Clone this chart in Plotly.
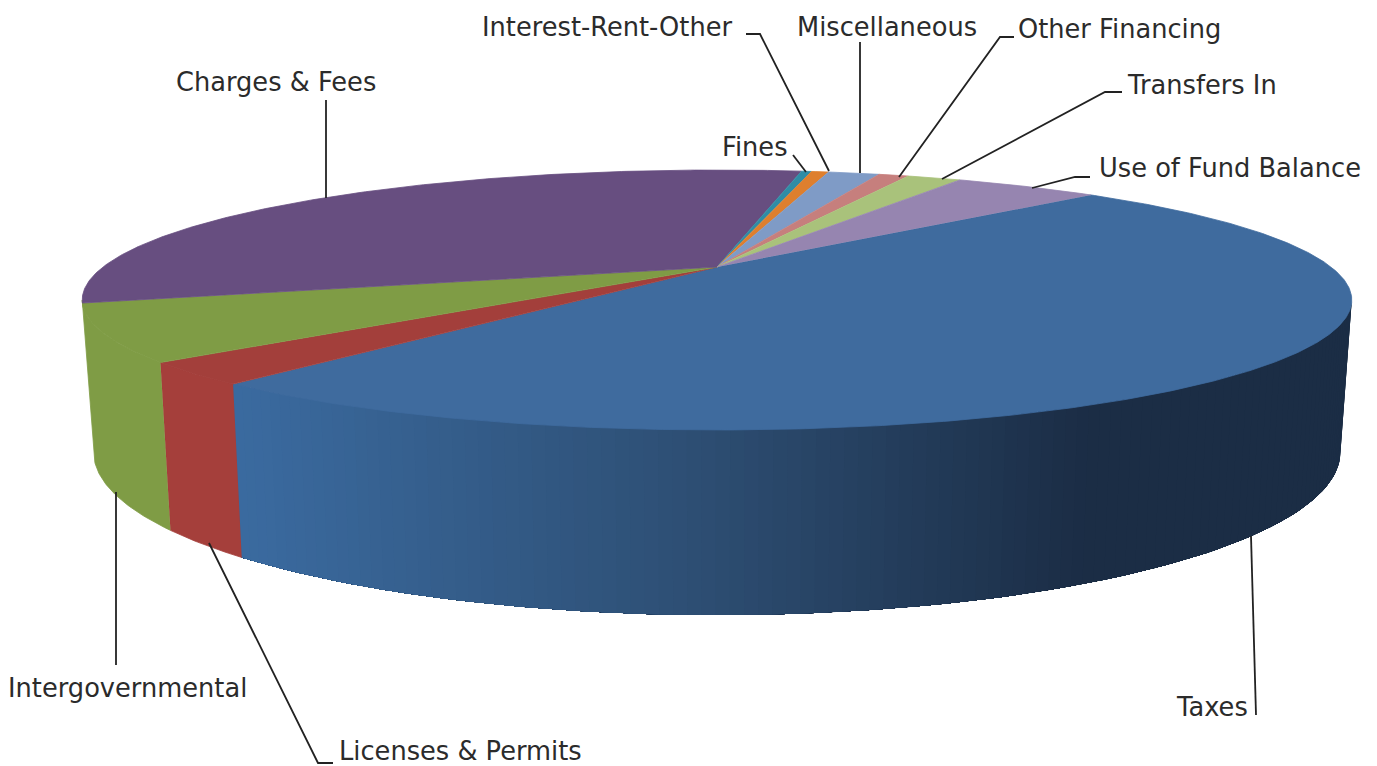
import math
import plotly.graph_objects as go

# ---- data (percent of total, clockwise from the first slice) ----
categories = ["Taxes", "Licenses & Permits", "Intergovernmental", "Charges & Fees", "Fines",
              "Interest-Rent-Other", "Miscellaneous", "Other Financing", "Transfers In",
              "Use of Fund Balance"]
values = [48.19, 2.72, 6.92, 32.19, 0.33, 0.56, 1.67, 0.97, 1.75, 4.69]

# ---- style ----
top_colors = ["#3F6B9E", "#A33F3B", "#7F9C45", "#674E80", "#2F8CA5",
              "#DE7F2E", "#7F9BC6", "#C67F7D", "#A9C27B", "#9685B0"]
side_left = {"Licenses & Permits": "#A53F3B", "Intergovernmental": "#7F9C45"}
GRAD = [(240, (59, 107, 160)), (700, (46, 79, 116)), (1100, (27, 45, 69)), (1400, (27, 45, 69))]
TEXT = "#2B2B2B"
FONT = "DejaVu Sans"
FS = 25.7

# ---- projection of the disc (perspective view) ----
START = 45.8
K = 0.2538
CX = 717
TOP = dict(a=614, b=121.6, c=267)
BOT = dict(a=603, b=152.5, c=410.6)


def project(theta, d):
    X, Y = math.sin(math.radians(theta)), math.cos(math.radians(theta))
    w = 1 + K * Y
    return CX + d["a"] * X / w, d["c"] - d["b"] * Y / w


def arc(a0, a1, d, step=0.5):
    n = max(2, int(abs(a1 - a0) / step) + 1)
    return [project(a0 + (a1 - a0) * i / (n - 1), d) for i in range(n)]


def grad(x):
    for (x0, c0), (x1, c1) in zip(GRAD, GRAD[1:]):
        if x <= x1:
            t = max(0, (x - x0) / (x1 - x0))
            return "rgb(%d,%d,%d)" % tuple(c0[i] + (c1[i] - c0[i]) * t for i in range(3))
    return "rgb(27,45,69)"


def poly(pts, color, lw=0.8):
    return go.Scatter(x=[p[0] for p in pts], y=[p[1] for p in pts], mode="lines", fill="toself",
                      fillcolor=color, line=dict(color=color, width=lw), hoverinfo="skip", showlegend=False)


fig = go.Figure()
total = sum(values)
edges = [START]
for v in values:
    edges.append(edges[-1] + v / total * 360)

EXT_R, EXT_L = 104.7, 255.3
# sides: each gradient strip runs on under the next one, so no seams appear
for i, name in enumerate(categories):
    a0, a1 = max(edges[i], EXT_R), min(edges[i + 1], EXT_L)
    if name == "Intergovernmental":
        a1 = EXT_L
    if a1 <= a0 or name == "Charges & Fees":
        continue
    if name == "Taxes":
        n = int((a1 - a0) / 1.0)
        for j in range(n):
            s0 = a0 + (a1 - a0) * j / n
            pts = arc(s0, a1, TOP, 1.0) + arc(a1, s0, BOT, 1.0)
            fig.add_trace(poly(pts, grad(project(s0, TOP)[0]), 0))
    else:
        fig.add_trace(poly(arc(a0, a1, TOP) + arc(a1, a0, BOT), side_left[name]))
# top face
for i in range(len(values)):
    pts = [(CX, TOP["c"])] + arc(edges[i], edges[i + 1], TOP)
    fig.add_trace(poly(pts, top_colors[i]))

# ---- leader lines and labels (page layout, not data) ----
leaders = [
    [(829, 171), (760, 34), (746, 34)],
    [(860, 173), (860, 42)],
    [(899, 177), (1000, 37), (1014, 37)],
    [(942, 179), (1105, 92), (1122, 92)],
    [(1032, 188), (1075, 177), (1090, 177)],
    [(806, 172), (793, 155)],
    [(326, 198), (326, 100)],
    [(116, 492), (116, 665)],
    [(209, 543), (318, 763), (333, 763)],
    [(1251, 536), (1256, 715)],
]
for L in leaders:
    fig.add_trace(go.Scatter(x=[p[0] for p in L], y=[p[1] for p in L], mode="lines",
                             line=dict(color="#222222", width=1.8), hoverinfo="skip", showlegend=False))

label_pos = {
    "Charges & Fees": (177, 82), "Interest-Rent-Other": (483, 27), "Miscellaneous": (798, 27),
    "Other Financing": (1019, 29), "Transfers In": (1128, 85), "Use of Fund Balance": (1100, 168),
    "Fines": (723, 147), "Intergovernmental": (9, 688), "Licenses & Permits": (340, 751), "Taxes": (1177, 707),
}
for name in categories:
    x, y = label_pos[name]
    fig.add_annotation(x=x, y=y, text=name, showarrow=False, xanchor="left", yanchor="middle",
                       xref="x", yref="y", xshift=-3, font=dict(family=FONT, size=FS, color=TEXT))

fig.update_layout(width=1377, height=766, margin=dict(l=0, r=0, t=0, b=0), paper_bgcolor="white",
                  plot_bgcolor="white", showlegend=False,
                  xaxis=dict(range=[0, 1377], visible=False, fixedrange=True),
                  yaxis=dict(range=[766, 0], visible=False, fixedrange=True))
fig.write_html("out.html", config={"displayModeBar": False},
               post_script="document.body.style.margin='0';document.body.style.overflow='hidden';")
